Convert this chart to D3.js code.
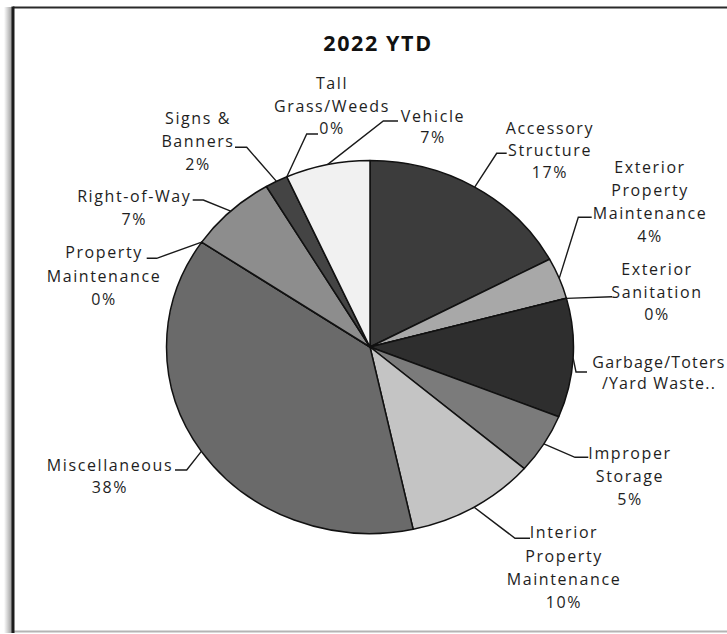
<!DOCTYPE html>
<html>
<head>
<meta charset="utf-8">
<script src="https://cdn.jsdelivr.net/npm/d3@7"></script>
<style>
  html, body { margin: 0; padding: 0; background: #fff; }
  svg { display: block; }
  text { font-family: "Open Sans", sans-serif; fill: #1e1e1e; }
</style>
</head>
<body>
<svg id="chart" width="727" height="634"></svg>
<script>
// Code enforcement cases by category, share of year-to-date total (%)
const categories = [
  "Accessory Structure", "Exterior Property Maintenance", "Exterior Sanitation",
  "Garbage/Toters/Yard Waste", "Improper Storage", "Interior Property Maintenance",
  "Miscellaneous", "Property Maintenance", "Right-of-Way", "Signs & Banners",
  "Tall Grass/Weeds", "Vehicle"
];
const shares = [17.2, 3.6, 0, 10.3, 5.2, 10.3, 37.9, 0, 7.0, 1.8, 0, 6.7];

// Wrapped label text per category (Garbage label is truncated, no percent)
const labelLines = [
  ["Accessory", "Structure"], ["Exterior", "Property", "Maintenance"], ["Exterior", "Sanitation"],
  ["Garbage/Toters", "/Yard Waste.."], ["Improper", "Storage"], ["Interior", "Property", "Maintenance"],
  ["Miscellaneous"], ["Property", "Maintenance"], ["Right-of-Way"], ["Signs &", "Banners"],
  ["Tall", "Grass/Weeds"], ["Vehicle"]
];
const showPercent = [true, true, true, false, true, true, true, true, true, true, true, true];

const title = "2022 YTD";

// Layout: slice fills, label anchors (centre x, first baseline) and leader elbows
const fills = ["#3c3c3c", "#a8a8a8", "#d5d5d5", "#2e2e2e", "#7b7b7b", "#c4c4c4",
               "#6a6a6a", "#8e8e8e", "#8d8d8d", "#444444", "#bdbdbd", "#f1f1f1"];
const labelLayout = [
  { x: 550, y: 133.5, lh: 22, ls: 1.6, hook: [[496.7, 153.3], [506.7, 153.3]] },
  { x: 650, y: 173.3, lh: 22.8, ls: 1.6, hook: [[578.3, 217.3], [591.7, 217.3]] },
  { x: 657, y: 275, lh: 22.5, ls: 1.6, hook: [[612, 296.7]] },
  { x: 659, y: 368.3, lh: 21, ls: 1.2, hook: [[576, 372], [587, 372]] },
  { x: 630, y: 459.3, lh: 23, ls: 1.6, hook: [[575, 457.3], [588.3, 457.3]] },
  { x: 564, y: 538.3, lh: 23.3, ls: 1.6, hook: [[515, 538.3], [530, 538.3]] },
  { x: 110, y: 470.7, lh: 22.6, ls: 1.6, hook: [[186.7, 470], [175, 470]] },
  { x: 104, y: 258.3, lh: 23.3, ls: 1.6, hook: [[156.7, 258.3], [146.7, 258.3]] },
  { x: 134.3, y: 202.3, lh: 22.7, ls: 1.6, hook: [[203.3, 200], [192.7, 200]] },
  { x: 198, y: 123.5, lh: 23, ls: 1.6, hook: [[246.7, 147.3], [235, 147.3]] },
  { x: 332, y: 89, lh: 22.5, ls: 1.6, hook: [[306.7, 134], [318, 134]] },
  { x: 433, y: 121.7, lh: 21.6, ls: 1.6, hook: [[383.3, 121], [398, 121]] }
];

const svg = d3.select("#chart");
const W = 727;

// Frame of the chart area
const shade = svg.append("defs").append("linearGradient")
  .attr("id", "edgeShade").attr("x1", "0").attr("x2", "1");
shade.append("stop").attr("offset", "0").attr("stop-color", "#fff");
shade.append("stop").attr("offset", "1").attr("stop-color", "#9a9a9a");
svg.append("rect").attr("x", 4).attr("y", 7).attr("width", 8).attr("height", 626)
  .attr("fill", "url(#edgeShade)");
svg.append("line").attr("x1", 13).attr("x2", W).attr("y1", 7.5).attr("y2", 7.5)
  .attr("stroke", "#2a2a2a").attr("stroke-width", 2);
svg.append("line").attr("x1", 13).attr("x2", W).attr("y1", 631.5).attr("y2", 631.5)
  .attr("stroke", "#b4b4b4").attr("stroke-width", 2);
svg.append("line").attr("x1", 13).attr("x2", 13).attr("y1", 6.5).attr("y2", 633)
  .attr("stroke", "#1c1c1c").attr("stroke-width", 3);

// Title
svg.append("text")
  .attr("x", 378).attr("y", 51)
  .attr("text-anchor", "middle")
  .style("font-size", "21.5px").style("font-weight", "700")
  .style("letter-spacing", "1.6px").style("fill", "#111")
  .text(title);

// Pie, drawn as a circle and stretched horizontally into the plot ellipse
const cx = 370, cy = 347, rx = 203.5, ry = 186.5;
const total = d3.sum(shares);
const arcs = d3.pie().sort(null).value(d => d)(shares);
const arc = d3.arc().innerRadius(0).outerRadius(ry);

const pieG = svg.append("g")
  .attr("transform", `translate(${cx},${cy}) scale(${rx / ry},1)`);
pieG.selectAll("path")
  .data(arcs)
  .join("path")
  .attr("d", arc)
  .attr("fill", (d, i) => fills[i])
  .attr("stroke", "#111")
  .attr("stroke-width", 1.5)
  .attr("stroke-linejoin", "round")
  .attr("vector-effect", "non-scaling-stroke");

// Point on the ellipse edge at a slice's middle angle
const edgePoint = d => {
  const a = (d.startAngle + d.endAngle) / 2;
  return [cx + rx * Math.sin(a), cy - ry * Math.cos(a)];
};

// Leader lines
const lineGen = d3.line();
svg.append("g").selectAll("path")
  .data(arcs)
  .join("path")
  .attr("d", (d, i) => lineGen([edgePoint(d), ...labelLayout[i].hook]))
  .attr("fill", "none")
  .attr("stroke", "#1a1a1a")
  .attr("stroke-width", 1.4);

// Data labels
const fmtPct = v => Math.round(v / total * 100) + "%";
const labels = svg.append("g").selectAll("text")
  .data(arcs)
  .join("text")
  .attr("text-anchor", "middle")
  .style("font-size", "16px")
  .style("letter-spacing", (d, i) => labelLayout[i].ls + "px");

labels.each(function (d, i) {
  const lay = labelLayout[i];
  const lines = labelLines[i].slice();
  if (showPercent[i]) lines.push(fmtPct(d.value));
  d3.select(this).selectAll("tspan")
    .data(lines)
    .join("tspan")
    .attr("x", lay.x)
    .attr("y", (t, k) => lay.y + k * lay.lh)
    .text(t => t);
});
</script>
</body>
</html>
